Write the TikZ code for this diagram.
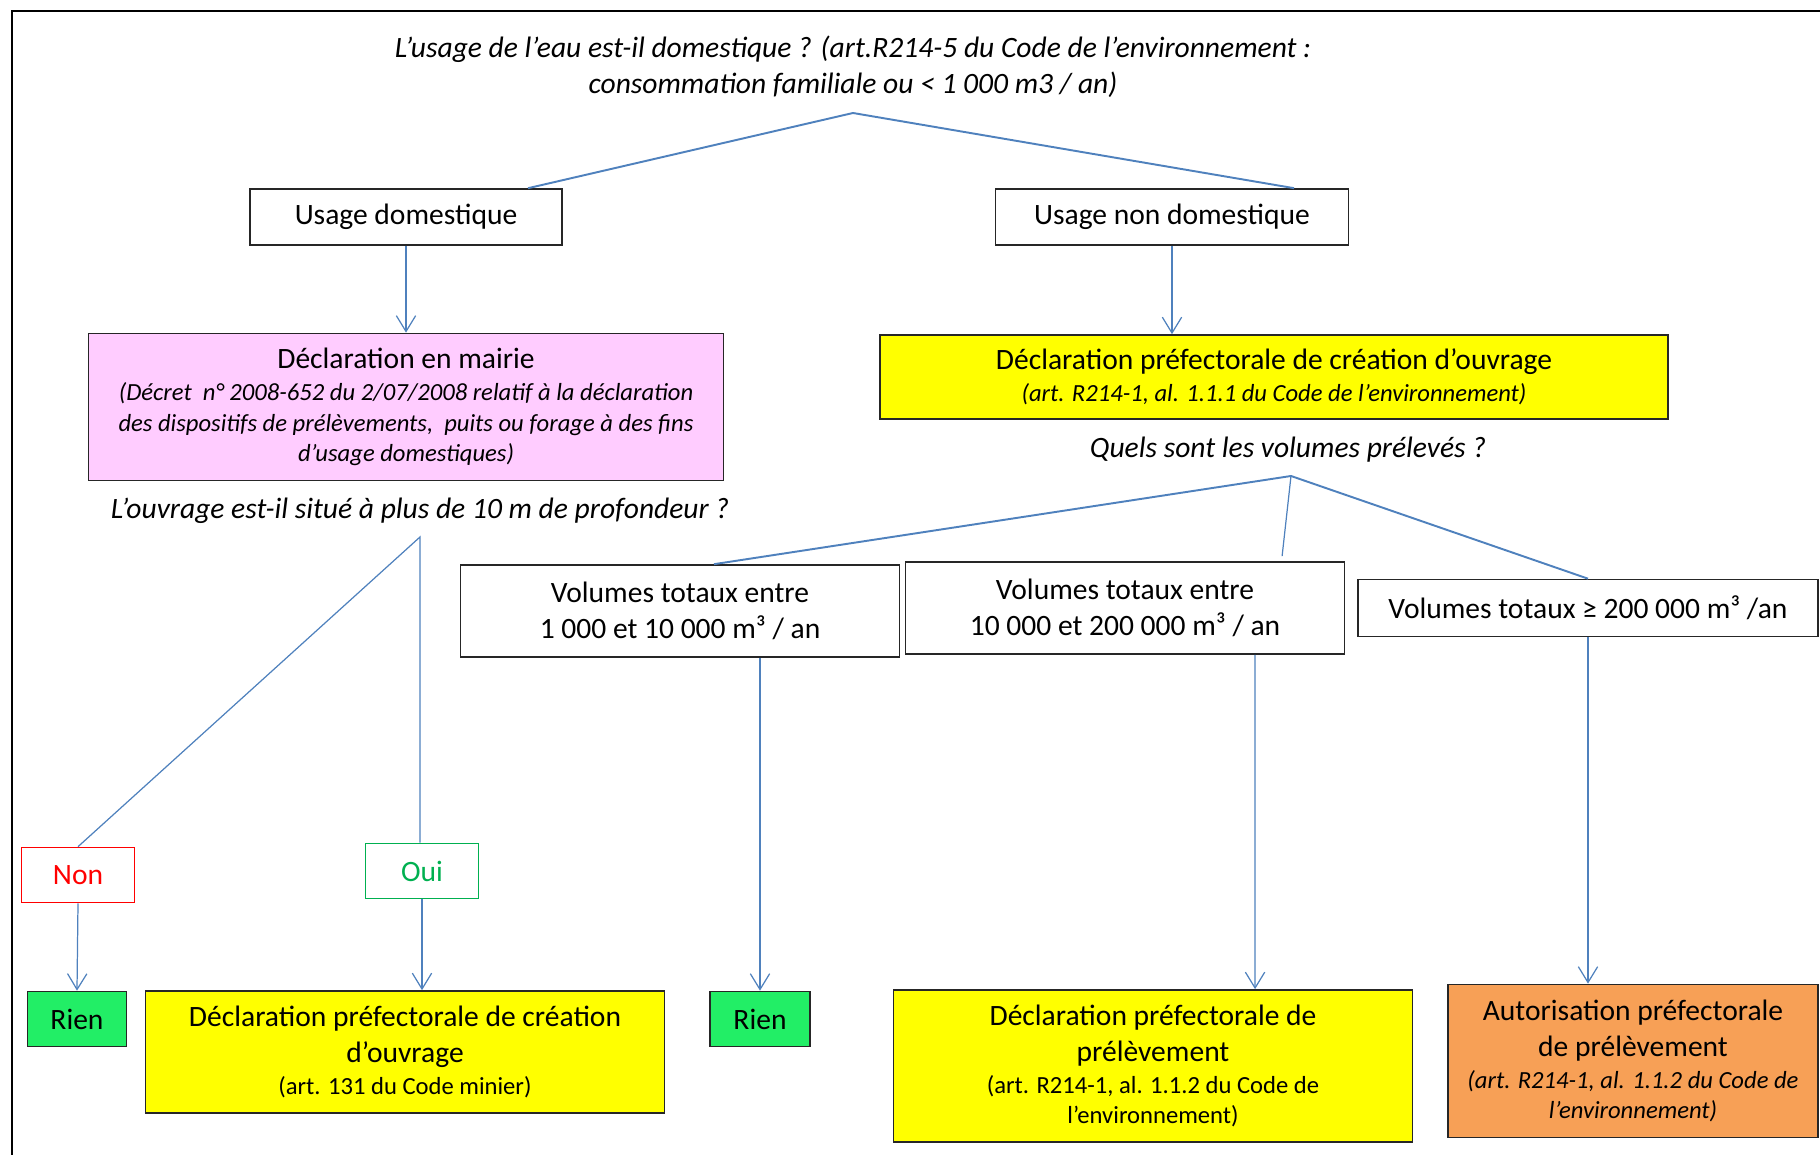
\documentclass[tikz,border=0pt]{standalone}
\usepackage{fontspec}
\setmainfont{Carlito}
\usetikzlibrary{positioning, arrows.meta}
\definecolor{lineblue}{RGB}{79,129,189}
\definecolor{pinkbox}{RGB}{255,204,255}
\definecolor{yelbox}{RGB}{255,255,0}
\definecolor{riengreen}{RGB}{34,238,102}
\definecolor{orangebox}{RGB}{247,160,86}
\definecolor{ouigreen}{RGB}{0,176,80}
\newcommand{\bigf}{\fontsize{8.4}{10.2}\selectfont}
\newcommand{\smallf}{\fontsize{7}{8.6}\selectfont}
\newcommand{\smallit}[1]{{\smallf\itshape #1}}
\newcommand{\smallup}[1]{{\smallf #1}}

\begin{document}
\begin{tikzpicture}[x=0.01cm, y=-0.01cm,
  box/.style={draw=black!85, line width=0.45pt, inner sep=0pt, align=center, font=\bigf},
  link/.style={draw=lineblue, line width=0.55pt},
  thinlink/.style={draw=lineblue, line width=0.35pt},
  flow/.style={draw=lineblue, line width=0.35pt, -{Straight Barb[length=4.5pt, width=5.5pt]}}]
\useasboundingbox (0,0) rectangle (1820,1155);
\draw[line width=0.6pt] (12,1155) -- (12,11) -- (1820,11);

\node[font=\bigf\itshape, align=center] (qusage) at (853,67) {L’usage de l’eau est-il domestique ? (art.R214-5 du Code de l’environnement :\\ consommation familiale ou < 1 000 m3 / an)};
\coordinate (top) at (853,113);
\node[box, minimum width=3.12cm, minimum height=0.56cm] (dom) at (406,217) {Usage domestique};
\node[box, minimum width=3.53cm, minimum height=0.56cm] (nondom) at (1172,217) {Usage non domestique};

\node[box, fill=pinkbox, minimum width=6.35cm, minimum height=1.47cm] (mairie) at (406,407)
  {Déclaration en mairie\\[-1pt] \smallit{(Décret~ n° 2008-652 du 2/07/2008 relatif à la déclaration}\\[-1.5pt]
   \smallit{des dispositifs de prélèvements,~ puits ou forage à des fins}\\[-1.5pt] \smallit{d’usage domestiques)}};
\node[box, fill=yelbox, minimum width=7.87cm, minimum height=0.84cm] (prefo) at (1274,377)
  {Déclaration préfectorale de création d’ouvrage\\[-1pt] \smallit{(art. R214-1, al. 1.1.1 du Code de l’environnement)}};

\node[font=\bigf\itshape] (qvol) at (1288,450) {Quels sont les volumes prélevés ?};
\node[font=\bigf\itshape] (qprof) at (420,511) {L’ouvrage est-il situé à plus de 10 m de profondeur ?};
\coordinate (fork1) at (420,537);
\coordinate (fork2) at (1291,476);

\node[box, minimum width=4.39cm, minimum height=0.92cm] (vol1) at (680,611) {Volumes totaux entre\\ 1 000 et 10 000 m³ / an};
\node[box, minimum width=4.39cm, minimum height=0.92cm] (vol2) at (1125,608) {Volumes totaux entre\\ 10 000 et 200 000 m³ / an};
\node[box, minimum width=4.6cm, minimum height=0.57cm] (vol3) at (1588,608) {Volumes totaux ≥ 200 000 m³ /an};

\node[box, draw=red, text=red, minimum width=1.13cm, minimum height=0.55cm] (non) at (78,875) {Non};
\node[box, draw=ouigreen, text=ouigreen, minimum width=1.13cm, minimum height=0.55cm] (oui) at (422,871) {Oui};

\node[box, fill=riengreen, minimum width=0.99cm, minimum height=0.55cm] (rien1) at (77,1019) {Rien};
\node[box, fill=yelbox, minimum width=5.19cm, minimum height=1.22cm] (forage) at (405,1052)
  {Déclaration préfectorale de création\\ d’ouvrage\\[-1pt] \smallup{(art. 131 du Code minier)}};
\node[box, fill=riengreen, minimum width=1cm, minimum height=0.55cm] (rien2) at (760,1019) {Rien};
\node[box, fill=yelbox, minimum width=5.19cm, minimum height=1.52cm] (prelev) at (1153,1066)
  {Déclaration préfectorale de\\ prélèvement\\[-1pt] \smallup{(art. R214-1, al. 1.1.2 du Code de}\\[-1.5pt] \smallup{l’environnement)}};
\node[box, fill=orangebox, minimum width=3.7cm, minimum height=1.53cm] (autor) at (1633,1061)
  {Autorisation préfectorale\\ de prélèvement\\[-1pt] \smallit{(art. R214-1, al. 1.1.2 du Code de}\\[-1.5pt] \smallit{l’environnement)}};

\draw[link] ([xshift=1.22cm]dom.north) -- (top) -- ([xshift=1.22cm]nondom.north);
\draw[flow] (dom.south) -- (mairie.north);
\draw[flow] (nondom.south) -- (nondom.south |- prefo.north);
\draw[thinlink] (non.north) -- (fork1) -- (fork1 |- oui.north);
\draw[flow] (non.south) -- (rien1.north);
\draw[flow] (oui.south) -- (oui.south |- forage.north);
\draw[link] ([xshift=0.34cm]vol1.north) -- (fork2) -- (vol3.north);
\draw[thinlink] (fork2) -- ([xshift=1.57cm, yshift=0.05cm]vol2.north);
\draw[flow] (rien2 |- vol1.south) -- (rien2.north);
\draw[flow] ([xshift=1.3cm]vol2.south) -- ([xshift=1.02cm]prelev.north);
\draw[flow] (vol3.south) -- (vol3.south |- autor.north);
\end{tikzpicture}
\end{document}
